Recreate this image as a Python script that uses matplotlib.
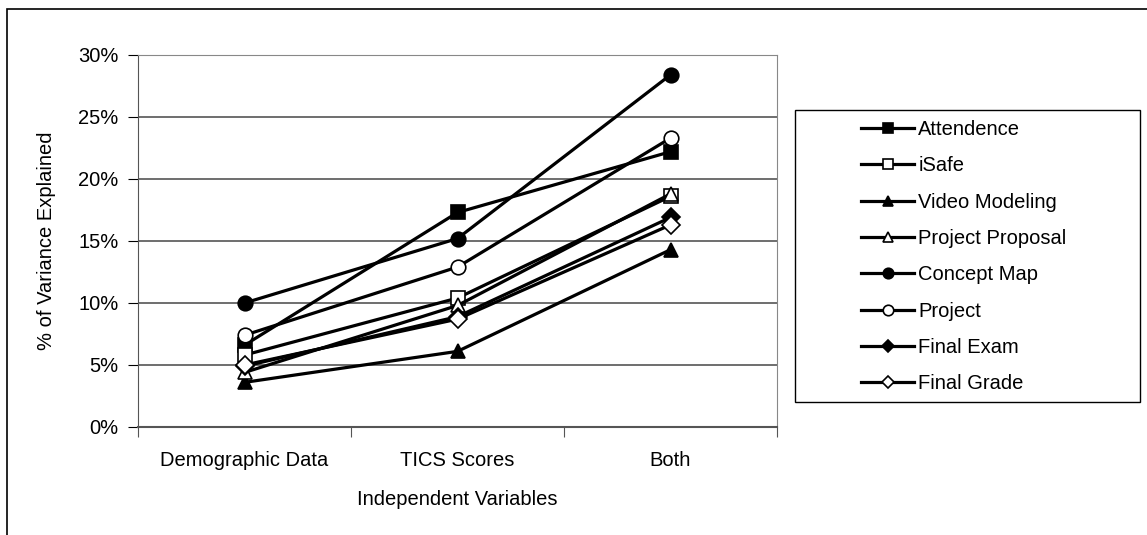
import matplotlib.pyplot as plt
from matplotlib.patches import Rectangle
from matplotlib.ticker import PercentFormatter

plt.rcParams['font.family'] = ['Liberation Sans', 'DejaVu Sans']

categories = ['Demographic Data', 'TICS Scores', 'Both']

attendence = [6.6, 17.3, 22.2]
isafe = [5.8, 10.4, 18.6]
video_modeling = [3.6, 6.1, 14.3]
project_proposal = [4.4, 9.8, 18.8]
concept_map = [10.0, 15.2, 28.4]
project = [7.4, 12.9, 23.3]
final_exam = [4.9, 8.9, 16.9]
final_grade = [5.0, 8.7, 16.3]

series = [
    ('Attendence', attendence, 's', 'black'),
    ('iSafe', isafe, 's', 'white'),
    ('Video Modeling', video_modeling, '^', 'black'),
    ('Project Proposal', project_proposal, '^', 'white'),
    ('Concept Map', concept_map, 'o', 'black'),
    ('Project', project, 'o', 'white'),
    ('Final Exam', final_exam, 'D', 'black'),
    ('Final Grade', final_grade, 'D', 'white'),
]

W, H = 1147, 535
fs = 14.5

fig = plt.figure(figsize=(W/100, H/100), dpi=100)
ax = fig.add_axes([138/W, 108/H, 639/W, 372/H])

# border of the original image frame
fig.patches.append(Rectangle((7/W, -0.1), 1.2, 0.1 + 526/H, transform=fig.transFigure,
                             fill=False, edgecolor='black', linewidth=1.2))
# legend box
fig.patches.append(Rectangle((795/W, 1 - 402/H), 345/W, 292/H, transform=fig.transFigure,
                             fill=False, edgecolor='black', linewidth=1.0))

x = [0.5, 1.5, 2.5]
for name, vals, mk, fc in series:
    ms = 10.5 if mk != 'D' else 9
    ax.plot(x, vals, color='black', linewidth=2.3, marker=mk, markersize=ms,
            markerfacecolor=fc, markeredgecolor='black', markeredgewidth=1.2, label=name)

ax.set_xlim(0, 3)
ax.set_ylim(0, 30)
ax.set_yticks([0, 5, 10, 15, 20, 25, 30])
ax.yaxis.set_major_formatter(PercentFormatter(decimals=0))
ax.set_xticks([0, 1, 2, 3])
ax.set_xticklabels([])
ax.set_xticks(x, minor=True)
ax.set_xticklabels(categories, minor=True)
ax.tick_params(axis='x', which='minor', length=0, pad=17, labelsize=fs)
ax.tick_params(axis='x', which='major', length=7, direction='out', color='#555555')
ax.tick_params(axis='y', length=7, direction='out', labelsize=fs, pad=7)
ax.grid(axis='y', color='#555555', linewidth=1.2)
ax.set_axisbelow(True)
for s in ['top', 'right']:
    ax.spines[s].set_color('#888888')
ax.spines['left'].set_color('#555555')
ax.spines['bottom'].set_color('#555555')
ax.spines['bottom'].set_linewidth(1.5)

ax.set_xlabel('Independent Variables', fontsize=fs, labelpad=15)
ax.set_ylabel('% of Variance Explained', fontsize=fs, labelpad=16)

leg = fig.legend(loc='upper left', bbox_to_anchor=(861/W, 1 - 120/H), fontsize=fs,
                 frameon=False, handlelength=2.65, handletextpad=0.2,
                 markerscale=0.72, labelspacing=0.86, borderpad=0, borderaxespad=0)

fig.savefig('out.png', dpi=100)
